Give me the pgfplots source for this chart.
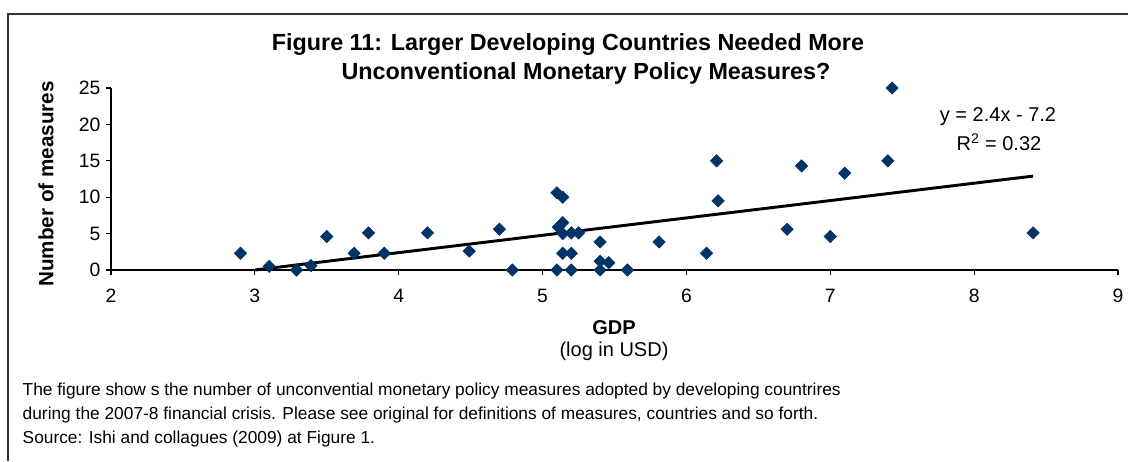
\documentclass[border=0pt]{standalone}
\usepackage{pgfplots}
\pgfplotsset{compat=1.18}
\usepackage{fontspec}
\setmainfont{Liberation Sans}
\definecolor{navy}{HTML}{003366}
\begin{document}
\begin{tikzpicture}[x=0.75pt,y=0.75pt]
\path[use as bounding box] (0,0) rectangle (1128,461);
\draw[line width=1.2pt, black!80] (8,0) -- (8,447) -- (1128,447);
\begin{axis}[at={(83.25pt,143.25pt)}, anchor=south west, scale only axis,
  width=755.25pt, height=136.5pt,
  xmin=2, xmax=9, ymin=0, ymax=25,
  axis lines=left, axis line style={-, line width=0.8pt},
  xtick={2,...,9}, ytick={0,5,...,25},
  tick align=outside, major tick length=4pt,
  tick style={black, line width=0.8pt},
  clip=false,
  ticklabel style={font=\fontsize{14.5}{16}\selectfont},
  /pgf/number format/assume math mode=true,
  xticklabel style={yshift=-7pt}, yticklabel style={xshift=-0.5pt}]
\addplot[only marks, mark=square*, mark size=3.3pt, mark options={rotate=45, fill=navy, draw=navy}] coordinates {
(2.90,2.3) (3.10,0.5) (3.29,0) (3.39,0.6) (3.50,4.6) (3.69,2.3) (3.79,5.1)
(3.90,2.3) (4.20,5.1) (4.49,2.6) (4.70,5.6) (4.79,0) (5.10,10.6) (5.14,10.0)
(5.11,5.9) (5.14,6.5) (5.14,5.0) (5.20,5.1) (5.25,5.1) (5.14,2.3) (5.20,2.3)
(5.10,0) (5.20,0) (5.40,3.85) (5.40,1.2) (5.46,1.0) (5.40,0) (5.59,0)
(5.81,3.85) (6.14,2.3) (6.21,15.0) (6.22,9.5) (6.70,5.6) (6.80,14.3)
(7.00,4.6) (7.10,13.3) (7.40,15.0) (7.43,25) (8.41,5.1)
};
\addplot[black, line width=2.2pt] coordinates {(3.0,0) (8.41,12.9)};
\end{axis}
\node[font=\bfseries\fontsize{17.5}{20}\selectfont] at (568,416) {Figure 11: Larger Developing Countries Needed More};
\node[font=\bfseries\fontsize{17.5}{20}\selectfont] at (586,388) {Unconventional Monetary Policy Measures?};
\node[rotate=90, font=\bfseries\fontsize{15.5}{18}\selectfont] at (46,277) {Number of measures};
\node[font=\bfseries\fontsize{15}{17}\selectfont] at (614,133) {GDP};
\node[font=\fontsize{15}{17}\selectfont] at (614,110) {(log in USD)};
\node[font=\fontsize{15}{17}\selectfont] at (998,344) {y = 2.4x - 7.2};
\node[font=\fontsize{15}{17}\selectfont] at (999,319) {R\textsuperscript{2} = 0.32};
\node[anchor=base west, font=\fontsize{13}{15}\selectfont] at (18,66) {The figure show s the number of unconvential monetary policy measures adopted by developing countrires};
\node[anchor=base west, font=\fontsize{13}{15}\selectfont] at (18,42) {during the 2007-8 financial crisis. Please see original for definitions of measures, countries and so forth.};
\node[anchor=base west, font=\fontsize{13}{15}\selectfont] at (18,18) {Source: Ishi and collagues (2009) at Figure 1.};
\end{tikzpicture}
\end{document}
